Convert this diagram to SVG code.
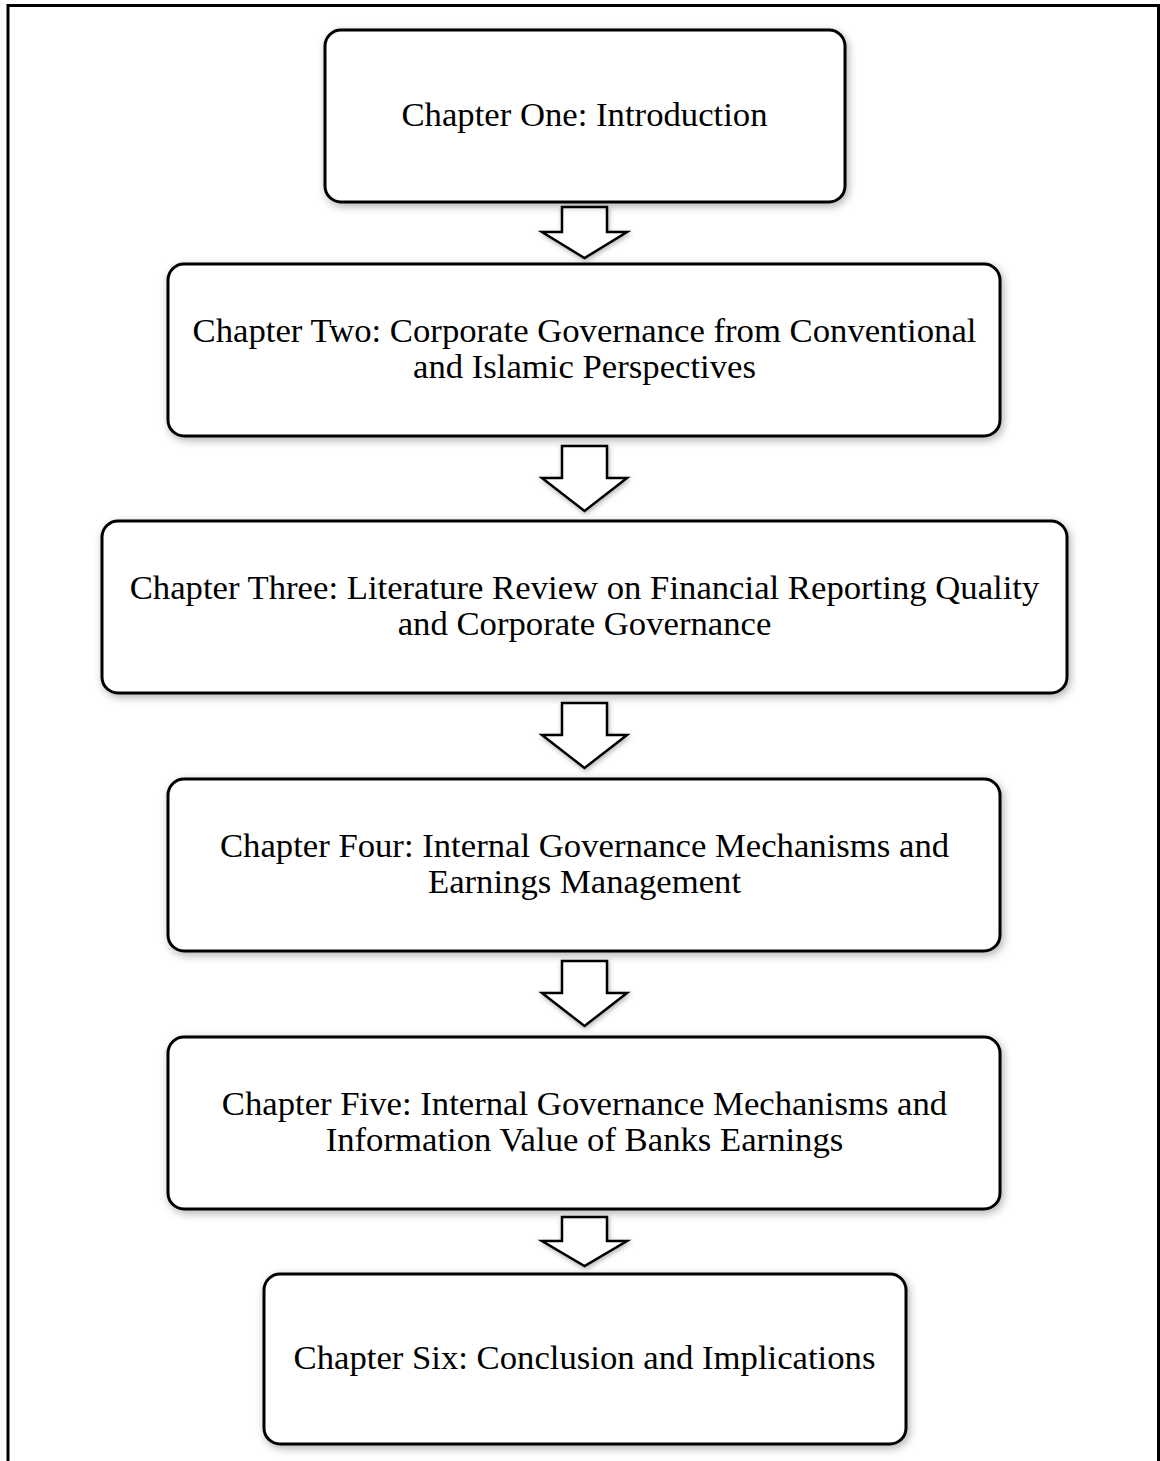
<svg xmlns="http://www.w3.org/2000/svg" width="1160" height="1461" viewBox="0 0 1160 1461">
  <defs>
    <filter id="shadow" x="-10%" y="-20%" width="120%" height="140%">
      <feDropShadow dx="2" dy="3" stdDeviation="4" flood-color="#000" flood-opacity="0.3"/>
    </filter>
    <filter id="ashadow" x="-30%" y="-30%" width="160%" height="160%">
      <feDropShadow dx="1" dy="2" stdDeviation="2.5" flood-color="#000" flood-opacity="0.3"/>
    </filter>
  </defs>
  <style>
    .box { fill: #fff; stroke: #000; stroke-width: 3; filter: url(#shadow); }
    .arrow { fill: #fff; stroke: #000; stroke-width: 2.5; stroke-linejoin: miter; filter: url(#ashadow); }
    .lbl { font-family: "Liberation Serif", "Times New Roman", serif; font-size: 34.7px; fill: #000; text-anchor: middle; }
    .frame { fill: none; stroke: #000; stroke-width: 3; }
  </style>
  <rect x="0" y="0" width="1160" height="1461" fill="#fff"/>
  <rect class="frame" x="8" y="5.5" width="1150.5" height="1480"/>

  <g id="connectors">
    <path class="arrow" d="M562,207 H607 V232 H627 L584.5,258 L542,232 H562 Z"/>
    <path class="arrow" d="M562,446 H607 V478 H627 L584.5,511 L542,478 H562 Z"/>
    <path class="arrow" d="M562,703 H607 V735 H627 L584.5,768 L542,735 H562 Z"/>
    <path class="arrow" d="M562,961 H607 V993 H627 L584.5,1026 L542,993 H562 Z"/>
    <path class="arrow" d="M562,1217 H607 V1241 H627 L584.5,1266 L542,1241 H562 Z"/>
  </g>

  <g id="node1">
    <rect class="box" x="325" y="30" width="520" height="172" rx="16"/>
    <text class="lbl" x="584.5" y="126">Chapter One: Introduction</text>
  </g>
  <g id="node2">
    <rect class="box" x="168" y="264" width="832" height="172" rx="16"/>
    <text class="lbl" x="584.5" y="342">Chapter Two: Corporate Governance from Conventional</text>
    <text class="lbl" x="584.5" y="378">and Islamic Perspectives</text>
  </g>
  <g id="node3">
    <rect class="box" x="102" y="521" width="965" height="172" rx="16"/>
    <text class="lbl" x="584.5" y="599">Chapter Three: Literature Review on Financial Reporting Quality</text>
    <text class="lbl" x="584.5" y="635">and Corporate Governance</text>
  </g>
  <g id="node4">
    <rect class="box" x="168" y="779" width="832" height="172" rx="16"/>
    <text class="lbl" x="584.5" y="857">Chapter Four: Internal Governance Mechanisms and</text>
    <text class="lbl" x="584.5" y="893">Earnings Management</text>
  </g>
  <g id="node5">
    <rect class="box" x="168" y="1037" width="832" height="172" rx="16"/>
    <text class="lbl" x="584.5" y="1115">Chapter Five: Internal Governance Mechanisms and</text>
    <text class="lbl" x="584.5" y="1151">Information Value of Banks Earnings</text>
  </g>
  <g id="node6">
    <rect class="box" x="264" y="1274" width="642" height="170" rx="16"/>
    <text class="lbl" x="584.5" y="1369">Chapter Six: Conclusion and Implications</text>
  </g>
</svg>
